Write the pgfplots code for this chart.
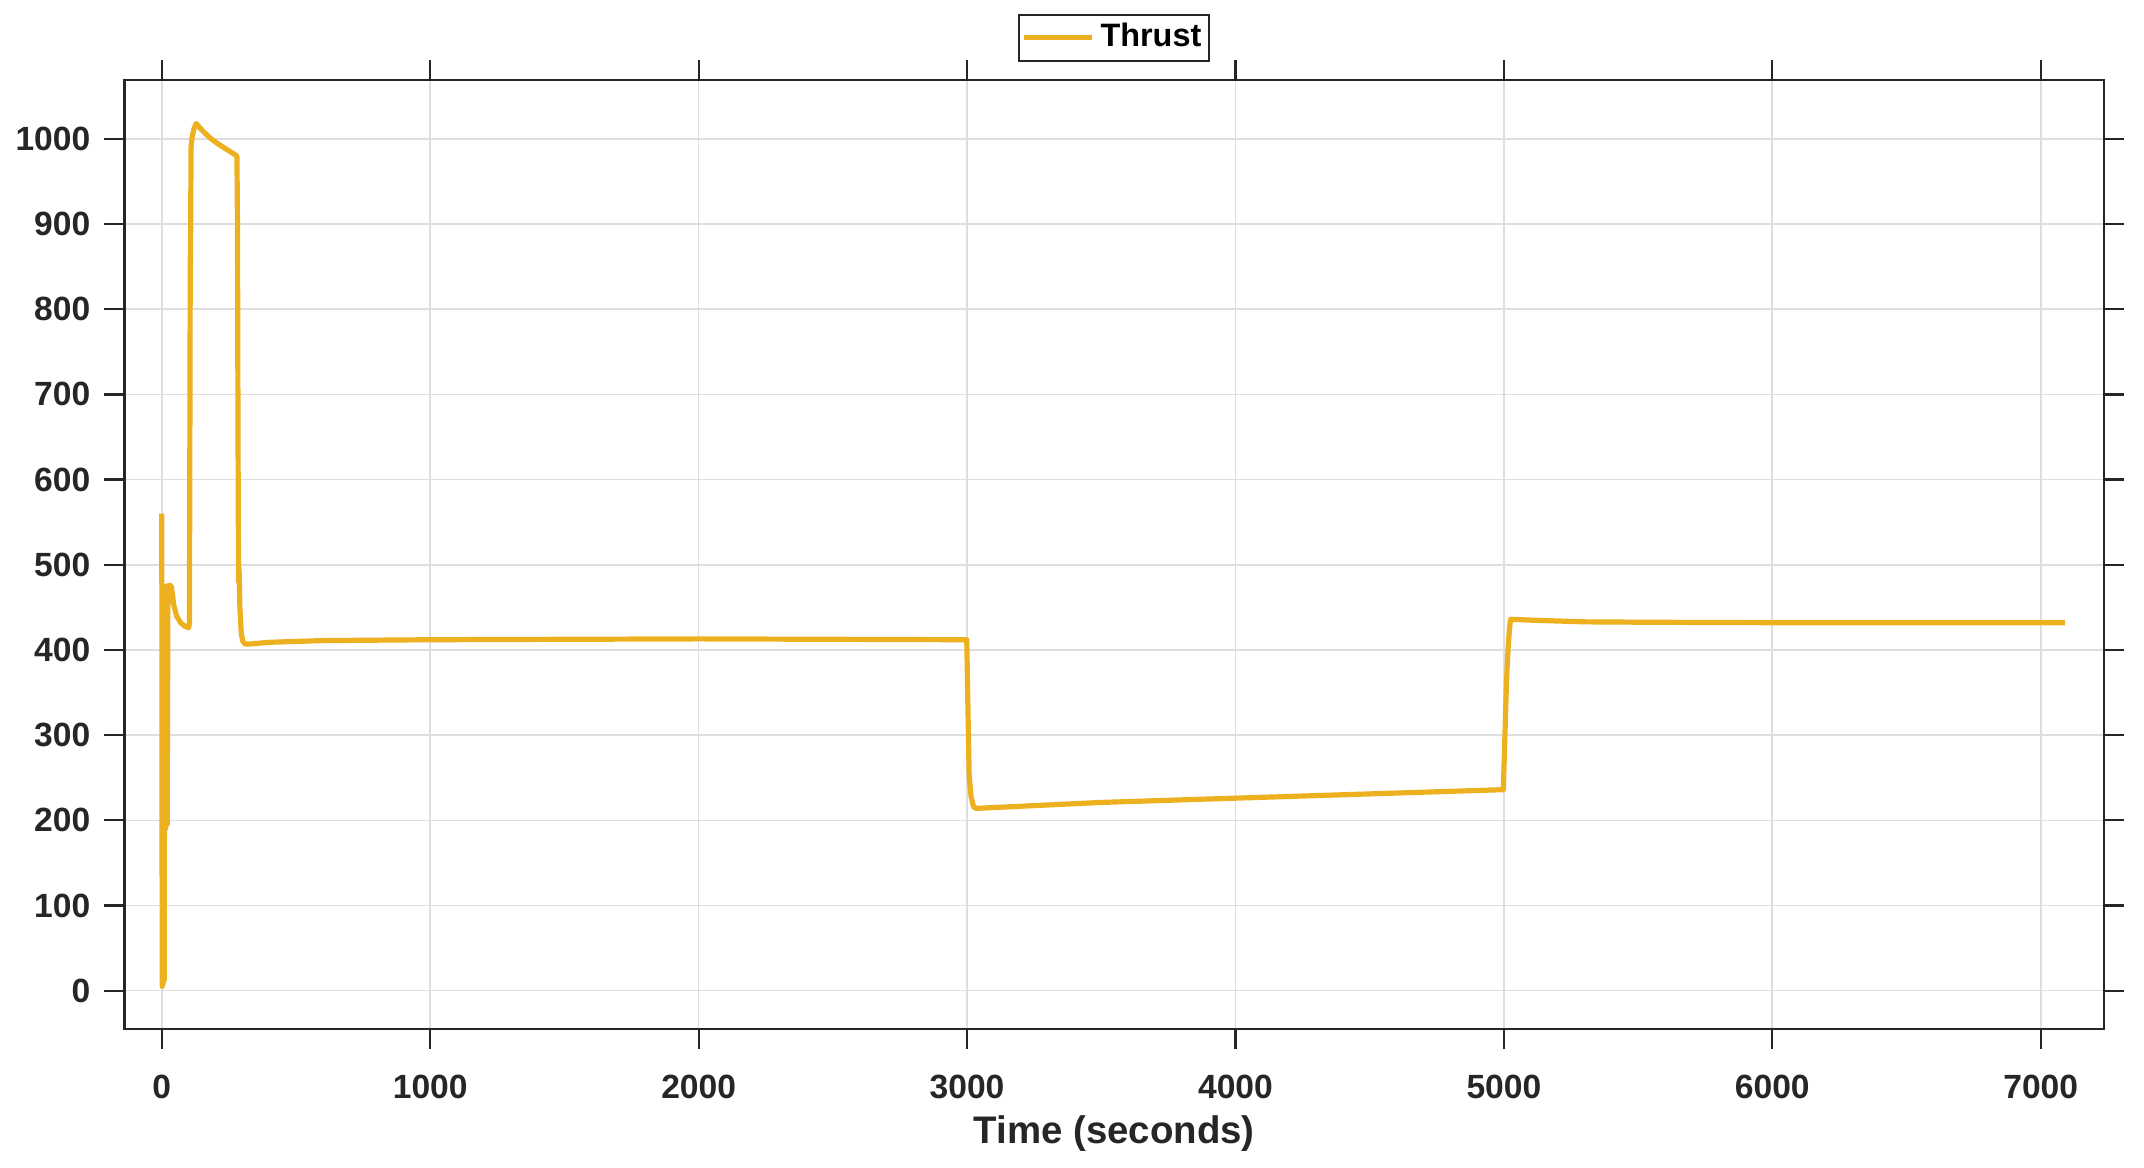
\documentclass[border=0pt]{standalone}
\usepackage{pgfplots}
\pgfplotsset{compat=1.18}
\usepackage{fontspec}
\setmainfont{Liberation Sans}
\definecolor{thrust}{HTML}{EDB120}
\definecolor{axcol}{RGB}{38,38,38}
\begin{document}
\begin{tikzpicture}
\path[use as bounding box] (-31.1pt,-34.75pt) rectangle (504.9pt,257.25pt);
\begin{axis}[
  at={(0,0)}, anchor=south west,
  scale only axis, width=494.9pt, height=237.2pt,
  xmin=-139.3, xmax=7235.8, ymin=-45, ymax=1068.9,
  xtick={0,1000,...,7000}, ytick={0,100,...,1000},
  grid=major,
  major grid style={color=black!13, line width=0.4pt},
  axis line style={color=axcol, line width=0.55pt},
  tick style={color=axcol, line width=0.55pt},
  tick align=outside, tick pos=both, major tick length=5pt,
  /pgf/number format/assume math mode=true,
  /pgf/number format/1000 sep={},
  ticklabel style={font=\fontsize{8.4}{10}\selectfont\bfseries, text=axcol},
  yticklabel style={xshift=0pt},
  xticklabel style={yshift=-2.9pt},
  xlabel={Time (seconds)},
  xlabel style={font=\fontsize{9.6}{11}\selectfont\bfseries, text=axcol, at={(axis description cs:0.5,0)}, anchor=base, yshift=-28.5pt},
  legend style={at={(0.5,1)}, anchor=south, yshift=4.65pt, draw=axcol, line width=0.5pt, inner sep=0.6pt,
    font=\fontsize{8.1}{9.5}\selectfont\bfseries, nodes={inner sep=1.4pt}},
  legend cell align=left,
]
\addplot[color=thrust, line width=1.3pt, line join=round] coordinates {
(0,560) (1.5,5) (3,470) (5,8) (7,475) (9,12) (11,470) (14,190) (17,475) (20,195) (23,475)
(28,476) (35,475) (40,465) (45,452) (55,440) (70,432) (85,428) (100,426)
(103,432) (105,700) (106,860) (107,855) (109,990) (113,1002) (120,1012) (128,1018)
(150,1010) (180,1001) (210,994) (245,987) (280,980)
(282,900) (284,650) (286,480) (288,495) (291,450) (296,420) (302,410) (310,407)
(330,407) (400,409) (600,411) (1000,412) (2000,413) (2999,412)
(3004,320) (3008,252) (3015,228) (3024,216) (3034,214) (3100,215) (3500,221)
(4000,226) (4500,231) (4998,236)
(5004,300) (5010,365) (5016,403) (5021,425) (5025,436) (5100,435) (5300,433)
(5548,432.5) (6000,432) (7090,432)
};
\addlegendentry{Thrust}
\end{axis}
\end{tikzpicture}
\end{document}
